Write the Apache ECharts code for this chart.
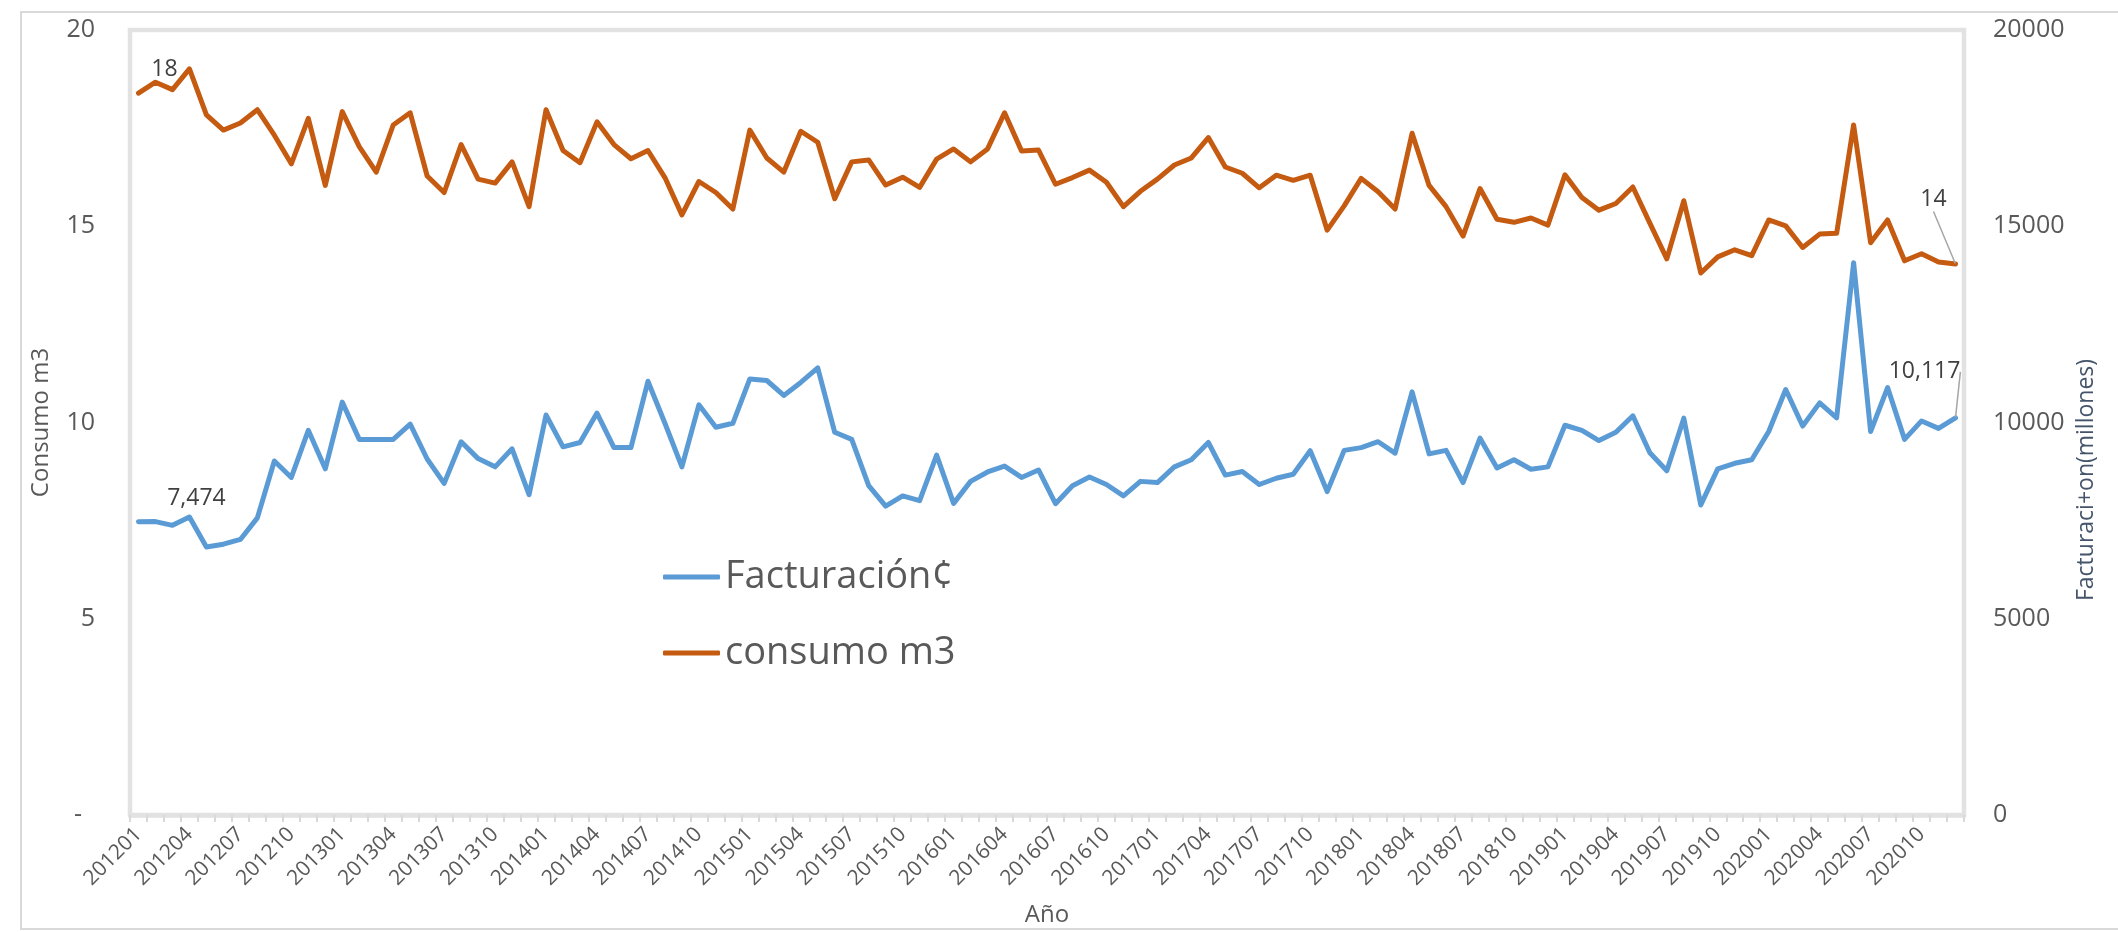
<!DOCTYPE html>
<html>
<head>
<meta charset="utf-8">
<script src="https://cdn.jsdelivr.net/npm/echarts@6/dist/echarts.min.js"></script>
<style>
html, body { margin: 0; padding: 0; background: #fff; }
#container { width: 2118px; height: 932px; }
</style>
</head>
<body>
<div id="container"></div>
<script>
// periods 201201 .. 202012
var years = ['2012', '2013', '2014', '2015', '2016', '2017', '2018', '2019', '2020']
var months = ['01', '02', '03', '04', '05', '06', '07', '08', '09', '10', '11', '12']
var periods = []
for (var y = 0; y < years.length; y++) {
	for (var m = 0; m < months.length; m++) {
		periods.push(years[y] + months[m])
	}
}

// consumo m3 (left axis)
var consumo = [
	18.39, 18.67, 18.48, 19.01, 17.84, 17.45, 17.63, 17.97, 17.32, 16.59,
	17.75, 16.04, 17.92, 17.03, 16.38, 17.58, 17.89, 16.28, 15.86, 17.08,
	16.20, 16.10, 16.64, 15.50, 17.97, 16.93, 16.62, 17.66, 17.08, 16.72,
	16.93, 16.24, 15.29, 16.14, 15.86, 15.44, 17.45, 16.74, 16.38, 17.42,
	17.14, 15.70, 16.64, 16.69, 16.05, 16.25, 15.99, 16.71, 16.97, 16.64,
	16.97, 17.89, 16.92, 16.94, 16.07, 16.24, 16.43, 16.12, 15.50, 15.89,
	16.20, 16.56, 16.74, 17.26, 16.51, 16.35, 15.98, 16.30, 16.17, 16.30,
	14.90, 15.52, 16.22, 15.88, 15.44, 17.37, 16.04, 15.50, 14.75, 15.96,
	15.18, 15.10, 15.21, 15.03, 16.31, 15.73, 15.41, 15.58, 16.00, 15.08,
	14.17, 15.65, 13.81, 14.22, 14.40, 14.25, 15.16, 15.01, 14.46, 14.80,
	14.82, 17.58, 14.58, 15.16, 14.12, 14.30, 14.09, 14.04
]

// facturacion, millones (right axis)
var facturacion = [
	7474, 7476, 7380, 7590, 6830, 6900, 7020, 7570, 9020, 8600,
	9800, 8820, 10520, 9570, 9570, 9570, 9960, 9070, 8450, 9510,
	9080, 8870, 9330, 8160, 10190, 9380, 9490, 10240, 9360, 9360,
	11050, 9980, 8870, 10450, 9880, 9980, 11110, 11070, 10690, 11020,
	11390, 9750, 9570, 8390, 7870, 8130, 8010, 9170, 7940, 8500,
	8740, 8890, 8600, 8790, 7930, 8390, 8610, 8420, 8130, 8500,
	8470, 8870, 9050, 9490, 8660, 8750, 8420, 8580, 8680, 9280,
	8240, 9290, 9360, 9510, 9220, 10780, 9200, 9290, 8470, 9600,
	8840, 9050, 8810, 8870, 9930, 9800, 9540, 9750, 10170, 9230,
	8770, 10110, 7900, 8820, 8960, 9050, 9770, 10840, 9910, 10500,
	10120, 14070, 9770, 10890, 9570, 10040, 9850, 10117
]

var font = 'Open Sans'
var labelColor = '#595959'
var lastIdx = periods.length - 1

// label the first and the last point; only the last one gets a leader line
function withLabels(values) {
	return values.map(function (v, i) {
		if (i === 0) {
			return { value: v, label: { show: true, position: 'inside' } }
		}
		if (i === lastIdx) {
			return { value: v, label: { show: true, position: 'inside' }, labelLine: { show: true } }
		}
		return v
	})
}

function moveLabels(first, last) {
	return function (p) {
		if (p.dataIndex === 0) return { dx: first[0], dy: first[1] }
		if (p.dataIndex === lastIdx) return { dx: last[0], dy: last[1] }
		return {}
	}
}

var dom = document.getElementById('container')
var myChart = echarts.init(dom)

option = {
	animation: false,
	textStyle: { fontFamily: font },
	graphic: [{
		type: 'rect',
		silent: true,
		shape: { x: 21, y: 12, width: 2200, height: 917 },
		style: { fill: 'none', stroke: '#d9d9d9', lineWidth: 2 }
	}],
	grid: {
		left: 130,
		right: 154,
		top: 30,
		bottom: 117,
		show: true,
		borderColor: '#e2e2e2',
		borderWidth: 4.5,
		outerBoundsMode: 'none'
	},
	legend: {
		orient: 'vertical',
		left: 658,
		top: 551,
		itemWidth: 57,
		itemHeight: 5,
		itemGap: 34,
		icon: 'roundRect',
		textStyle: { fontFamily: font, fontSize: 38, lineHeight: 42, color: labelColor },
		data: ['Facturación¢', 'consumo m3']
	},
	xAxis: {
		type: 'category',
		data: periods,
		boundaryGap: true,
		axisLine: { show: true, lineStyle: { color: '#e2e2e2', width: 4.5 } },
		axisTick: { show: true, interval: 0, length: 7, lineStyle: { color: '#d9d9d9', width: 2 } },
		axisLabel: { interval: 2, rotate: 45, fontFamily: font, fontSize: 21, color: labelColor, margin: 16 },
		splitLine: { show: false },
		name: 'Año',
		nameLocation: 'middle',
		nameGap: 88,
		nameTextStyle: { fontFamily: font, fontSize: 24, color: labelColor }
	},
	yAxis: [{
		type: 'value',
		position: 'left',
		min: 0,
		max: 20,
		interval: 5,
		axisLine: { show: false },
		axisTick: { show: false },
		splitLine: { show: false },
		axisLabel: {
			fontFamily: font, fontSize: 25, color: labelColor, margin: 35,
			formatter: function (v) { return v === 0 ? '-  ' : String(v) }
		},
		name: 'Consumo m3',
		nameLocation: 'middle',
		nameGap: 77,
		nameTextStyle: { fontFamily: font, fontSize: 24, color: labelColor }
	}, {
		type: 'value',
		position: 'right',
		min: 0,
		max: 20000,
		interval: 5000,
		axisLine: { show: false },
		axisTick: { show: false },
		splitLine: { show: false },
		axisLabel: {
			fontFamily: font, fontSize: 25, color: labelColor, margin: 29,
			formatter: function (v) { return String(v) }
		},
		name: 'Facturaci+on(millones)',
		nameLocation: 'middle',
		nameGap: 108,
		nameTextStyle: { fontFamily: font, fontSize: 23, color: '#44546A', padding: [0, 115, 0, 0] }
	}],
	series: [
		{
			name: 'Facturación¢',
			type: 'line',
			yAxisIndex: 1,
			symbol: 'circle',
			symbolSize: 1,
			showAllSymbol: true,
			itemStyle: { color: '#5B9BD5' },
			lineStyle: { color: '#5B9BD5', width: 5, cap: 'round', join: 'round' },
			label: {
				show: false,
				fontFamily: font,
				fontSize: 23,
				color: '#404040',
				formatter: function (p) { return p.value.toLocaleString('en-US') }
			},
			labelLine: { show: false, lineStyle: { color: '#a6a6a6', width: 1.5 } },
			labelLayout: moveLabels([58, -23], [-31, -46]),
			data: withLabels(facturacion)
		},
		{
			name: 'consumo m3',
			type: 'line',
			yAxisIndex: 0,
			symbol: 'circle',
			symbolSize: 1,
			showAllSymbol: true,
			itemStyle: { color: '#C55A11' },
			lineStyle: { color: '#C55A11', width: 5, cap: 'round', join: 'round' },
			label: {
				show: false,
				fontFamily: font,
				fontSize: 23,
				color: '#404040',
				formatter: function (p) { return Math.round(p.value) }
			},
			labelLine: { show: false, lineStyle: { color: '#a6a6a6', width: 1.5 } },
			labelLayout: moveLabels([26, -24], [-22, -64]),
			data: withLabels(consumo)
		}
	]
}

if (option && typeof option === 'object') {
	myChart.setOption(option, true)
}
</script>
</body>
</html>
